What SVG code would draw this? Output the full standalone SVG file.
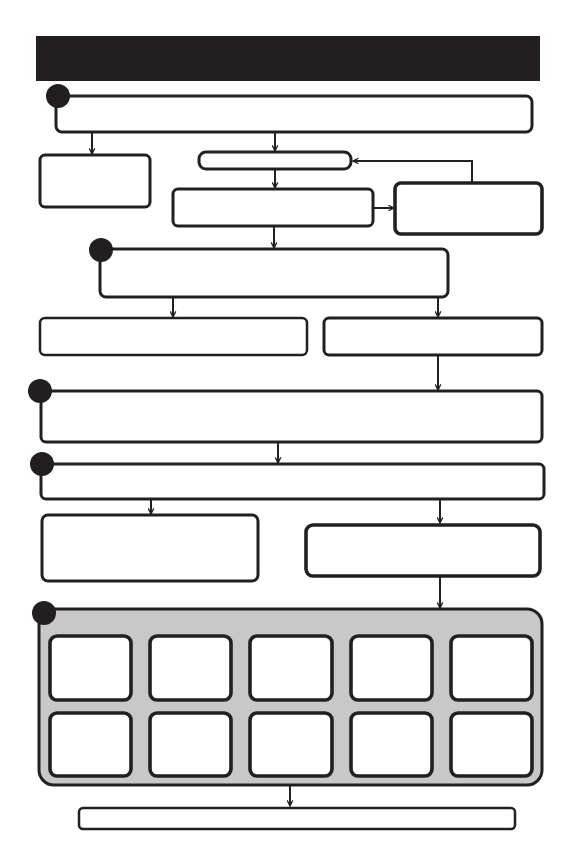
<svg xmlns="http://www.w3.org/2000/svg" width="576" height="864" viewBox="0 0 576 864">
<defs>
<style>
.b{fill:#fff;stroke:#231f20;stroke-width:3}
.t{fill:#fff;stroke:#231f20;stroke-width:3.6}
.n{fill:#fff;stroke:#231f20;stroke-width:2.5}
.dot{fill:#231f20}
.c{fill:none;stroke:#231f20;stroke-width:2}
</style>
<marker id="a" viewBox="0 0 10 10" refX="9" refY="5" markerWidth="7" markerHeight="7" orient="auto" markerUnits="userSpaceOnUse">
<path d="M1,1 L9,5 L1,9" fill="none" stroke="#231f20" stroke-width="1.8"/>
</marker>
</defs>
<rect width="576" height="864" fill="#fff"/>
<g id="header"><rect x="36" y="36" width="504" height="45" fill="#231f20"/></g>
<g id="step1"><rect class="b" x="56" y="96" width="476" height="36" rx="6"/><circle class="dot" cx="58" cy="96" r="12"/></g>
<g id="n1a"><rect class="b" x="40" y="155" width="110" height="52" rx="5"/></g>
<g id="n1b"><rect class="b" x="199" y="152" width="152" height="17" rx="7"/></g>
<g id="n1c"><rect class="b" x="173" y="189" width="200" height="37" rx="5"/></g>
<g id="n1d"><rect class="t" x="395" y="183" width="147" height="51" rx="6"/></g>
<g id="step2"><rect class="b" x="100" y="249" width="348" height="48" rx="6"/><circle class="dot" cx="101" cy="250" r="12"/></g>
<g id="n2a"><rect class="n" x="40" y="318" width="267" height="37" rx="5"/></g>
<g id="n2b"><rect class="b" x="324" y="318" width="218" height="37" rx="5"/></g>
<g id="step3"><rect class="b" x="41" y="391" width="501" height="51" rx="5"/><circle class="dot" cx="40" cy="391" r="12"/></g>
<g id="step4"><rect class="b" x="41" y="464" width="503" height="35" rx="5"/><circle class="dot" cx="42" cy="464" r="12"/></g>
<g id="n4a"><rect class="b" x="42" y="515" width="216" height="66" rx="6"/></g>
<g id="n4b"><rect class="t" x="306" y="525" width="234" height="51" rx="7"/></g>
<g id="step5">
<rect x="39" y="609" width="503" height="176" rx="15" fill="#c8c8c8" stroke="#231f20" stroke-width="3"/>
<circle class="dot" cx="44" cy="613" r="12"/>
<rect class="t" x="50" y="636" width="81" height="64" rx="7"/>
<rect class="t" x="150" y="636" width="81" height="64" rx="7"/>
<rect class="t" x="250" y="636" width="82" height="64" rx="7"/>
<rect class="t" x="351" y="636" width="81" height="64" rx="7"/>
<rect class="t" x="451" y="636" width="81" height="64" rx="7"/>
<rect class="t" x="50" y="713" width="81" height="63" rx="7"/>
<rect class="t" x="150" y="713" width="81" height="63" rx="7"/>
<rect class="t" x="250" y="713" width="82" height="63" rx="7"/>
<rect class="t" x="351" y="713" width="81" height="63" rx="7"/>
<rect class="t" x="451" y="713" width="81" height="63" rx="7"/>
</g>
<g id="final"><rect class="n" x="79" y="808" width="436" height="21" rx="4"/></g>
<g id="connectors">
<path class="c" d="M92,133 V154" marker-end="url(#a)"/>
<path class="c" d="M275,133 V151" marker-end="url(#a)"/>
<path class="c" d="M275,170 V188" marker-end="url(#a)"/>
<path class="c" d="M373,208 H394" marker-end="url(#a)"/>
<path class="c" d="M472,182 V161 H353" marker-end="url(#a)"/>
<path class="c" d="M274,227 V248" marker-end="url(#a)"/>
<path class="c" d="M173,298 V317" marker-end="url(#a)"/>
<path class="c" d="M438,298 V317" marker-end="url(#a)"/>
<path class="c" d="M438,356 V390" marker-end="url(#a)"/>
<path class="c" d="M278,443 V463" marker-end="url(#a)"/>
<path class="c" d="M151,500 V514" marker-end="url(#a)"/>
<path class="c" d="M440,500 V523" marker-end="url(#a)"/>
<path class="c" d="M440,577 V608" marker-end="url(#a)"/>
<path class="c" d="M290,786 V806" marker-end="url(#a)"/>
</g>
</svg>
